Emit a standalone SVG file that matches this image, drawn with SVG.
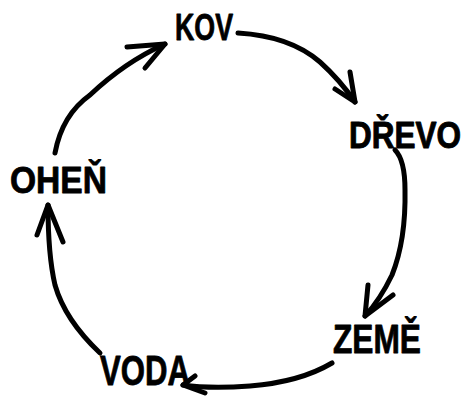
<svg xmlns="http://www.w3.org/2000/svg" width="465" height="396" viewBox="0 0 465 396">
<style>
.lbl{font-family:"Liberation Sans",Arial,sans-serif;font-weight:bold;fill:#000;stroke:#000;stroke-width:0.8;stroke-linejoin:round}
.ln{fill:none;stroke:#000;stroke-width:5;stroke-linecap:round;stroke-linejoin:round}
</style>
<rect width="465" height="396" fill="#fff"/>
<g id="connectors">
<path class="ln" d="M238,33 Q290,36 320,62 Q340,80 355,102"/>
<path class="ln" d="M350,72 L355,102 L335,89"/>
<path class="ln" d="M395,150 Q405,160 405,190 Q406,240 392,275 Q380,300 365,316"/>
<path class="ln" d="M368,285 L365,316 L393,295"/>
<path class="ln" d="M332,363 Q300,382 250,386 Q210,389 183,385"/>
<path class="ln" d="M195,376 L183,385 L205,393"/>
<path class="ln" d="M100,353 Q65,320 55,285 Q48,255 48,205"/>
<path class="ln" d="M37,235 L48,205 L63,242"/>
<path class="ln" d="M55,153 Q62,115 90,95 Q125,62 165,44"/>
<path class="ln" d="M127,47 L165,44 L145,68"/>
</g>
<g id="kov"><text class="lbl" x="175" y="40" font-size="36" textLength="58" lengthAdjust="spacingAndGlyphs">KOV</text></g>
<g id="drevo"><text class="lbl" transform="translate(349,148) scale(1,1.2)" x="0" y="0" font-size="31.5">DŘEVO</text></g>
<g id="zeme"><text class="lbl" x="333" y="353" font-size="40" textLength="88" lengthAdjust="spacingAndGlyphs">ZEMĚ</text></g>
<g id="voda"><text class="lbl" x="100" y="385" font-size="42" textLength="90" lengthAdjust="spacingAndGlyphs">VODA</text></g>
<g id="ohen"><text class="lbl" x="10" y="193" font-size="37" textLength="97" lengthAdjust="spacingAndGlyphs">OHEŇ</text></g>
</svg>
